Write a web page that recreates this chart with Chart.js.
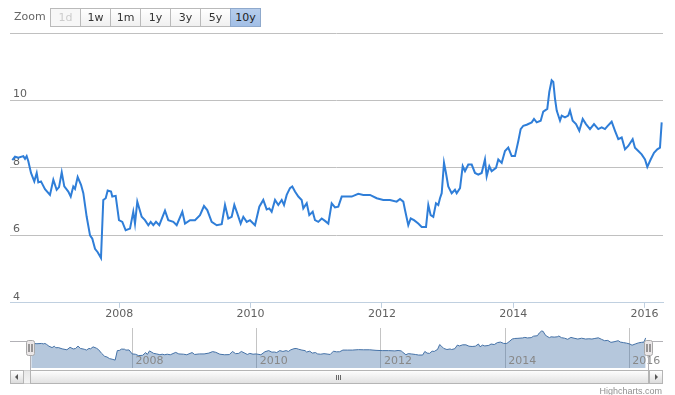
<!DOCTYPE html>
<html>
<head>
<meta charset="utf-8">
<script src="https://cdn.jsdelivr.net/npm/chart.js@4.4.1/dist/chart.umd.min.js"></script>
<style>
body{margin:0;background:#fff;font-family:"DejaVu Sans",sans-serif;}
#wrap{position:relative;width:675px;height:395px;overflow:hidden;background:#fff;}
canvas{position:absolute;left:0;}
#main{top:0;}
#nav{top:320px;}
.zoomlbl{position:absolute;left:14px;top:10px;font-size:11px;color:#666;}
.btn{position:absolute;top:8px;width:31px;height:19px;box-sizing:border-box;border:1px solid #bababa;
  background:linear-gradient(#ffffff,#f0f0f0);font-size:11px;color:#333;text-align:center;line-height:17px;}
.btn.dis{color:#cccccc;background:#f7f7f7;}
.btn.sel{background:linear-gradient(#b6cdec,#a2bfe6);color:#222;z-index:2;border-color:#8fa9cc;}
.sb{position:absolute;box-sizing:border-box;}
#track{left:10px;top:370px;width:653px;height:14px;background:linear-gradient(#e8e8e8,#f4f4f4);border:1px solid #d0d0d0;}
.sbtn{top:370px;width:14px;height:14px;border:1px solid #b5b5b5;background:linear-gradient(#ffffff,#dcdcdc);}
#thumb{left:30px;top:370px;width:619px;height:14px;border:1px solid #b5b5b5;background:linear-gradient(#fdfdfd,#e2e2e2);}
.grip{position:absolute;top:4px;width:1px;height:5px;background:#666;}
.tri{position:absolute;top:3px;width:0;height:0;border-top:3px solid transparent;border-bottom:3px solid transparent;}
.credits{position:absolute;right:13px;top:386px;font-family:"Liberation Sans",sans-serif;font-size:9px;color:#909090;}
</style>
</head>
<body>
<div id="wrap">
  <canvas id="main" width="675" height="322"></canvas>
  <canvas id="nav" width="675" height="50"></canvas>
  <div class="zoomlbl">Zoom</div>
  <div id="buttons"></div>
  <div class="sb" id="track"></div>
  <div class="sb sbtn" style="left:10px"><div class="tri" style="left:4px;border-right:3px solid #555"></div></div>
  <div class="sb" id="thumb">
    <div class="grip" style="left:305px"></div><div class="grip" style="left:307px"></div><div class="grip" style="left:309px"></div>
  </div>
  <div class="sb sbtn" style="left:649px"><div class="tri" style="left:5px;border-left:3px solid #555"></div></div>
  <div class="credits">Highcharts.com</div>
</div>
<script>
// range selector
const zoomButtons = ['1d', '1w', '1m', '1y', '3y', '5y', '10y'];
const selectedButton = '10y';
const disabledButton = '1d';

// series (decimal year, value)
const years = [
  2006.370, 2006.411, 2006.462, 2006.538, 2006.564, 2006.589, 2006.614, 2006.655, 2006.705, 2006.742, 2006.766, 2006.807, 2006.868, 2006.944, 2006.995,
  2007.046, 2007.082, 2007.123, 2007.162, 2007.223, 2007.260, 2007.299, 2007.325, 2007.366, 2007.417, 2007.452, 2007.503, 2007.554, 2007.589, 2007.630, 2007.671, 2007.721, 2007.756, 2007.793, 2007.823, 2007.874, 2007.893, 2007.945, 2007.995,
  2008.046, 2008.097, 2008.163, 2008.213, 2008.239, 2008.274, 2008.341, 2008.391, 2008.442, 2008.478, 2008.518, 2008.559, 2008.609, 2008.696, 2008.746, 2008.823, 2008.874, 2008.960,
  2009.001, 2009.077, 2009.153, 2009.229, 2009.290, 2009.340, 2009.407, 2009.484, 2009.560, 2009.610, 2009.660, 2009.712, 2009.752, 2009.797, 2009.849, 2009.889, 2009.941, 2009.991,
  2010.067, 2010.133, 2010.193, 2010.245, 2010.285, 2010.321, 2010.372, 2010.422, 2010.474, 2010.509, 2010.550, 2010.600, 2010.635, 2010.676, 2010.727, 2010.778, 2010.803, 2010.855, 2010.894, 2010.946, 2010.981,
  2011.031, 2011.083, 2011.133, 2011.184, 2011.235, 2011.286, 2011.336, 2011.388, 2011.464, 2011.540, 2011.640, 2011.717, 2011.819, 2011.921,
  2012.021, 2012.123, 2012.225, 2012.276, 2012.326, 2012.352, 2012.402, 2012.439, 2012.489, 2012.554, 2012.606, 2012.672, 2012.707, 2012.743, 2012.783, 2012.824, 2012.859, 2012.885, 2012.911, 2012.946, 2012.976,
  2013.011, 2013.063, 2013.113, 2013.139, 2013.190, 2013.231, 2013.266, 2013.316, 2013.368, 2013.418, 2013.468, 2013.520, 2013.570, 2013.596, 2013.636, 2013.672, 2013.738, 2013.773, 2013.825, 2013.875, 2013.925, 2013.977,
  2014.027, 2014.078, 2014.114, 2014.154, 2014.206, 2014.282, 2014.317, 2014.358, 2014.419, 2014.458, 2014.519, 2014.550, 2014.586, 2014.611, 2014.637, 2014.663, 2014.713, 2014.739, 2014.789, 2014.839, 2014.865, 2014.906, 2014.957,
  2015.007, 2015.059, 2015.109, 2015.170, 2015.231, 2015.296, 2015.348, 2015.398, 2015.433, 2015.500, 2015.551, 2015.601, 2015.653, 2015.703, 2015.753, 2015.820, 2015.855, 2015.906, 2015.957,
  2016.008, 2016.043, 2016.094, 2016.145, 2016.195, 2016.236, 2016.262
];
const rates = [
  8.23, 8.33, 8.30, 8.35, 8.27, 8.35, 8.20, 7.85, 7.60, 7.85, 7.57, 7.60, 7.37, 7.20, 7.65,
  7.35, 7.43, 7.87, 7.45, 7.30, 7.15, 7.45, 7.38, 7.73, 7.50, 7.25, 6.55, 6.00, 5.90, 5.60, 5.50, 5.33, 7.05, 7.10, 7.33, 7.30, 7.15, 7.17, 6.45,
  6.40, 6.15, 6.20, 6.70, 6.35, 7.00, 6.55, 6.45, 6.30, 6.40, 6.30, 6.40, 6.30, 6.73, 6.45, 6.40, 6.30, 6.70,
  6.35, 6.45, 6.45, 6.60, 6.87, 6.75, 6.40, 6.30, 6.33, 6.90, 6.50, 6.55, 6.90, 6.65, 6.35, 6.55, 6.40, 6.45,
  6.30, 6.85, 7.05, 6.77, 6.80, 6.70, 7.05, 6.90, 7.05, 6.90, 7.20, 7.40, 7.45, 7.30, 7.15, 7.05, 6.80, 6.95, 6.60, 6.70, 6.45,
  6.40, 6.50, 6.43, 6.35, 6.95, 6.83, 6.85, 7.15, 7.15, 7.15, 7.23, 7.20, 7.20, 7.10,
  7.05, 7.05, 7.00, 7.08, 7.00, 6.75, 6.30, 6.50, 6.45, 6.35, 6.25, 6.25, 6.90, 6.60, 6.55, 6.95, 6.90, 7.10, 7.25, 8.15, 7.85,
  7.45, 7.25, 7.35, 7.25, 7.40, 8.05, 7.90, 8.10, 8.10, 7.85, 7.80, 7.85, 8.25, 7.75, 8.05, 7.90, 8.00, 8.25, 8.15, 8.50, 8.60, 8.35,
  8.35, 8.80, 9.15, 9.25, 9.28, 9.35, 9.45, 9.35, 9.40, 9.67, 9.75, 10.25, 10.60, 10.55, 10.05, 9.70, 9.40, 9.55, 9.50, 9.55, 9.70, 9.40, 9.30,
  9.10, 9.45, 9.30, 9.15, 9.30, 9.15, 9.20, 9.15, 9.23, 9.37, 9.10, 8.85, 8.90, 8.55, 8.65, 8.85, 8.60, 8.50, 8.40,
  8.25, 8.03, 8.25, 8.45, 8.55, 8.60, 9.35
];

// tick labels
const yearTicks = [2008, 2010, 2012, 2014, 2016];
const rateTicks = [4, 6, 8, 10, 12];

const points = years.map((x, i) => ({ x, y: rates[i] }));
const FONT = 'DejaVu Sans';

// zoom buttons
const btnBox = document.getElementById('buttons');
zoomButtons.forEach((b, i) => {
  const d = document.createElement('div');
  d.className = 'btn' + (b === selectedButton ? ' sel' : '') + (b === disabledButton ? ' dis' : '');
  d.style.left = (50 + i * 30) + 'px';
  d.textContent = b;
  btnBox.appendChild(d);
});

new Chart(document.getElementById('main'), {
  type: 'line',
  data: { datasets: [{ data: points, borderColor: '#2f7ed8', borderWidth: 2, pointRadius: 0, tension: 0, fill: false }] },
  options: {
    responsive: false, animation: false,
    layout: { padding: { left: 4, right: 12, top: 33, bottom: 1 } },
    plugins: { legend: { display: false }, tooltip: { enabled: false } },
    scales: {
      x: {
        type: 'linear', min: 2006.335, max: 2016.282,
        afterBuildTicks: a => { a.ticks = yearTicks.map(v => ({ value: v })); },
        grid: { drawOnChartArea: false, drawTicks: true, tickLength: 5, color: '#C0D0E0' },
        border: { color: '#C0D0E0' },
        ticks: { color: '#606060', padding: 0, maxRotation: 0, font: { family: FONT, size: 11 }, callback: v => String(v) }
      },
      y: {
        min: 4, max: 12,
        afterBuildTicks: a => { a.ticks = rateTicks.map(v => ({ value: v })); },
        grid: { color: '#C0C0C0', drawTicks: false },
        border: { display: false },
        ticks: { mirror: true, padding: 3, labelOffset: -6, color: '#606060', font: { family: FONT, size: 11 },
          callback: v => v === 12 ? '' : String(v) }
      }
    }
  }
});

// navigator extras: year labels, outline, handles
const navDecor = {
  id: 'navDecor',
  afterDraw(chart) {
    const { ctx, chartArea: ca, scales } = chart;
    ctx.save();
    ctx.font = '11px ' + FONT;
    ctx.fillStyle = '#888';
    ctx.textAlign = 'left';
    ctx.textBaseline = 'alphabetic';
    yearTicks.forEach(v => ctx.fillText(String(v), scales.x.getPixelForValue(v) + 3, ca.bottom - 4));
    // outline
    ctx.strokeStyle = '#b2b1b6';
    ctx.lineWidth = 1;
    const oy = 21.5, L = Math.round(ca.left) + 0.5, R = Math.round(ca.right) + 0.5;
    ctx.beginPath();
    ctx.moveTo(10, oy); ctx.lineTo(L, oy); ctx.lineTo(L, chart.height);
    ctx.moveTo(R, chart.height); ctx.lineTo(R, oy); ctx.lineTo(663, oy);
    ctx.stroke();
    // handles
    [L, R].forEach(x => {
      ctx.beginPath();
      ctx.roundRect(x - 4, 20.5, 8, 15, 2);
      ctx.fillStyle = '#ebe7e8';
      ctx.fill();
      ctx.strokeStyle = '#a9a9a9';
      ctx.stroke();
      ctx.strokeStyle = '#444';
      ctx.beginPath();
      ctx.moveTo(x - 1.5, 24); ctx.lineTo(x - 1.5, 32);
      ctx.moveTo(x + 1.5, 24); ctx.lineTo(x + 1.5, 32);
      ctx.stroke();
    });
    ctx.restore();
  }
};

new Chart(document.getElementById('nav'), {
  type: 'line',
  data: { datasets: [{ data: points, borderColor: '#4572A7', borderWidth: 1, backgroundColor: 'rgba(69,114,167,0.4)',
    pointRadius: 0, tension: 0, fill: 'start' }] },
  options: {
    responsive: false, animation: false,
    layout: { padding: { left: 30, right: 27, top: 8, bottom: 2 } },
    plugins: { legend: { display: false }, tooltip: { enabled: false } },
    scales: {
      x: {
        type: 'linear', min: 2006.35, max: 2016.30,
        afterBuildTicks: a => { a.ticks = yearTicks.map(v => ({ value: v })); },
        grid: { color: '#c4c4c4', drawTicks: false },
        border: { display: false },
        ticks: { display: false }
      },
      y: { display: false, min: 3.9, max: 11.15 }
    }
  },
  plugins: [navDecor]
});
</script>
</body>
</html>
